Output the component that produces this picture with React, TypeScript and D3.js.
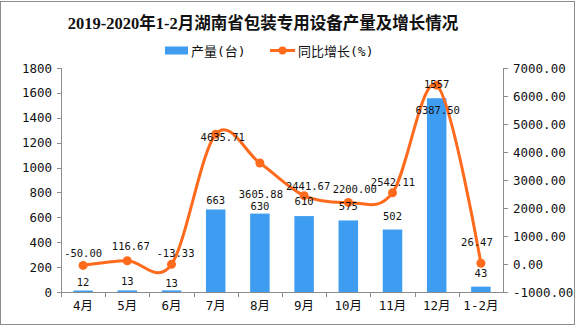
import React from "react";
import * as d3 from "d3";

const categories = ["4月", "5月", "6月", "7月", "8月", "9月", "10月", "11月", "12月", "1-2月"];
const production = [12, 13, 13, 663, 630, 610, 575, 502, 1557, 43];
const growth = [-50.0, 116.67, -13.33, 4635.71, 3605.88, 2441.67, 2200.0, 2542.11, 6387.5, 26.47];
const leftTicks = [0, 200, 400, 600, 800, 1000, 1200, 1400, 1600, 1800];
const rightTicks = [-1000, 0, 1000, 2000, 3000, 4000, 5000, 6000, 7000];

// label placement nudges (styling)
const barLabelDy = [-9, -9, -7, -9.5, -7.5, -15, -14, -14, -14, -14];
const lineLabelDy = [-12, -15, -11, 3, 31, -10, -13, -11, 25, -21];
const lineLabelDx = [0, 3.5, 4, 7, 1, 4, 6.5, 0.5, 1, -4];

const W = 576;
const H = 327;
const BLUE = "#3F9DF1";
const ORANGE = "#FF6A1C";
const AXIS = "#8c8c8c";
const MONO = "'DejaVu Sans Mono', 'Noto Sans CJK SC', monospace";

export default function App() {
  const left = 61;
  const right = 503;
  const top = 68;
  const bottom = 292;

  const x = d3.scaleBand<string>().domain(categories).range([left, right]).paddingInner(0).paddingOuter(0);
  const yL = d3.scaleLinear().domain([0, 1800]).range([bottom, top]);
  const yR = d3.scaleLinear().domain([-1000, 7000]).range([bottom, top]);
  const barW = 19.5;
  const cx = (c: string) => (x(c) as number) + x.bandwidth() / 2;

  const pts: [number, number][] = growth.map((g, i) => [cx(categories[i]), yR(g)]);
  const line = d3.line().curve(d3.curveCatmullRom.alpha(0))(pts) || "";

  return (
    <svg
      width={W}
      height={H}
      style={{ position: "absolute", left: 0, top: 0, background: "#fff" }}
    >
      <rect x={0.5} y={1.5} width={574} height={323} fill="#fff" stroke={AXIS} strokeWidth={1} />
      <text
        x={263}
        y={29}
        textAnchor="middle"
        fontSize={16.5}
        fontWeight="bold"
        fontFamily="'Liberation Serif', 'Noto Sans CJK SC', serif"
        fill="#111"
      >
        2019-2020年1-2月湖南省包装专用设备产量及增长情况
      </text>

      {/* legend */}
      <rect x={165} y={46.5} width={23} height={8} fill={BLUE} />
      <text x={191} y={55.5} fontSize={13} fontFamily={MONO} fill="#111">
        产量(台)
      </text>
      <line x1={270} x2={295} y1={50.5} y2={50.5} stroke={ORANGE} strokeWidth={3} />
      <circle cx={282.5} cy={50.5} r={4} fill={ORANGE} />
      <text x={298} y={55.5} fontSize={13} fontFamily={MONO} fill="#111">
        同比增长(%)
      </text>

      {/* left axis */}
      <line x1={left + 0.5} x2={left + 0.5} y1={top} y2={bottom} stroke={AXIS} />
      {leftTicks.map((t) => (
        <g key={"l" + t}>
          <line x1={left - 4} x2={left} y1={Math.round(yL(t)) + 0.5} y2={Math.round(yL(t)) + 0.5} stroke={AXIS} />
          <text x={left - 9} y={yL(t) + 4.5} textAnchor="end" fontSize={12.5} fontFamily={MONO} fill="#111">
            {t}
          </text>
        </g>
      ))}

      {/* right axis */}
      <line x1={right + 0.5} x2={right + 0.5} y1={top} y2={bottom} stroke={AXIS} />
      {rightTicks.map((t) => (
        <g key={"r" + t}>
          <line x1={right} x2={right + 5} y1={Math.round(yR(t)) + 0.5} y2={Math.round(yR(t)) + 0.5} stroke={AXIS} />
          <text x={right + 10} y={yR(t) + 4.5} textAnchor="start" fontSize={12.5} fontFamily={MONO} fill="#111">
            {t.toFixed(2)}
          </text>
        </g>
      ))}

      {/* bars */}
      {production.map((v, i) => (
        <rect
          key={"b" + i}
          x={cx(categories[i]) - barW / 2}
          y={yL(v)}
          width={barW}
          height={bottom - yL(v)}
          fill={BLUE}
        />
      ))}

      {/* x axis */}
      <line x1={left} x2={right + 1} y1={bottom + 0.5} y2={bottom + 0.5} stroke={AXIS} />
      {categories.map((c, i) => (
        <g key={"x" + i}>
          <line
            x1={Math.round(x(c) as number) + 0.5}
            x2={Math.round(x(c) as number) + 0.5}
            y1={bottom}
            y2={bottom + 5}
            stroke={AXIS}
          />
          <text x={cx(c)} y={bottom + 18} textAnchor="middle" fontSize={12.5} fontFamily={MONO} fill="#111">
            {c}
          </text>
        </g>
      ))}

      {/* line */}
      <path d={line} fill="none" stroke={ORANGE} strokeWidth={3} />
      {pts.map((p, i) => (
        <circle key={"p" + i} cx={p[0]} cy={p[1]} r={4.5} fill={ORANGE} />
      ))}

      {/* bar labels */}
      {production.map((v, i) => (
        <text
          key={"bl" + i}
          x={cx(categories[i])}
          y={yL(v) + barLabelDy[i] + 4}
          textAnchor="middle"
          fontSize={10.5}
          fontFamily={MONO}
          fill="#111"
        >
          {v}
        </text>
      ))}

      {/* line labels */}
      {growth.map((g, i) => (
        <text
          key={"ll" + i}
          x={cx(categories[i]) + lineLabelDx[i]}
          y={yR(g) + lineLabelDy[i] + 4}
          textAnchor="middle"
          fontSize={10.5}
          fontFamily={MONO}
          fill="#111"
        >
          {g.toFixed(2)}
        </text>
      ))}
    </svg>
  );
}
